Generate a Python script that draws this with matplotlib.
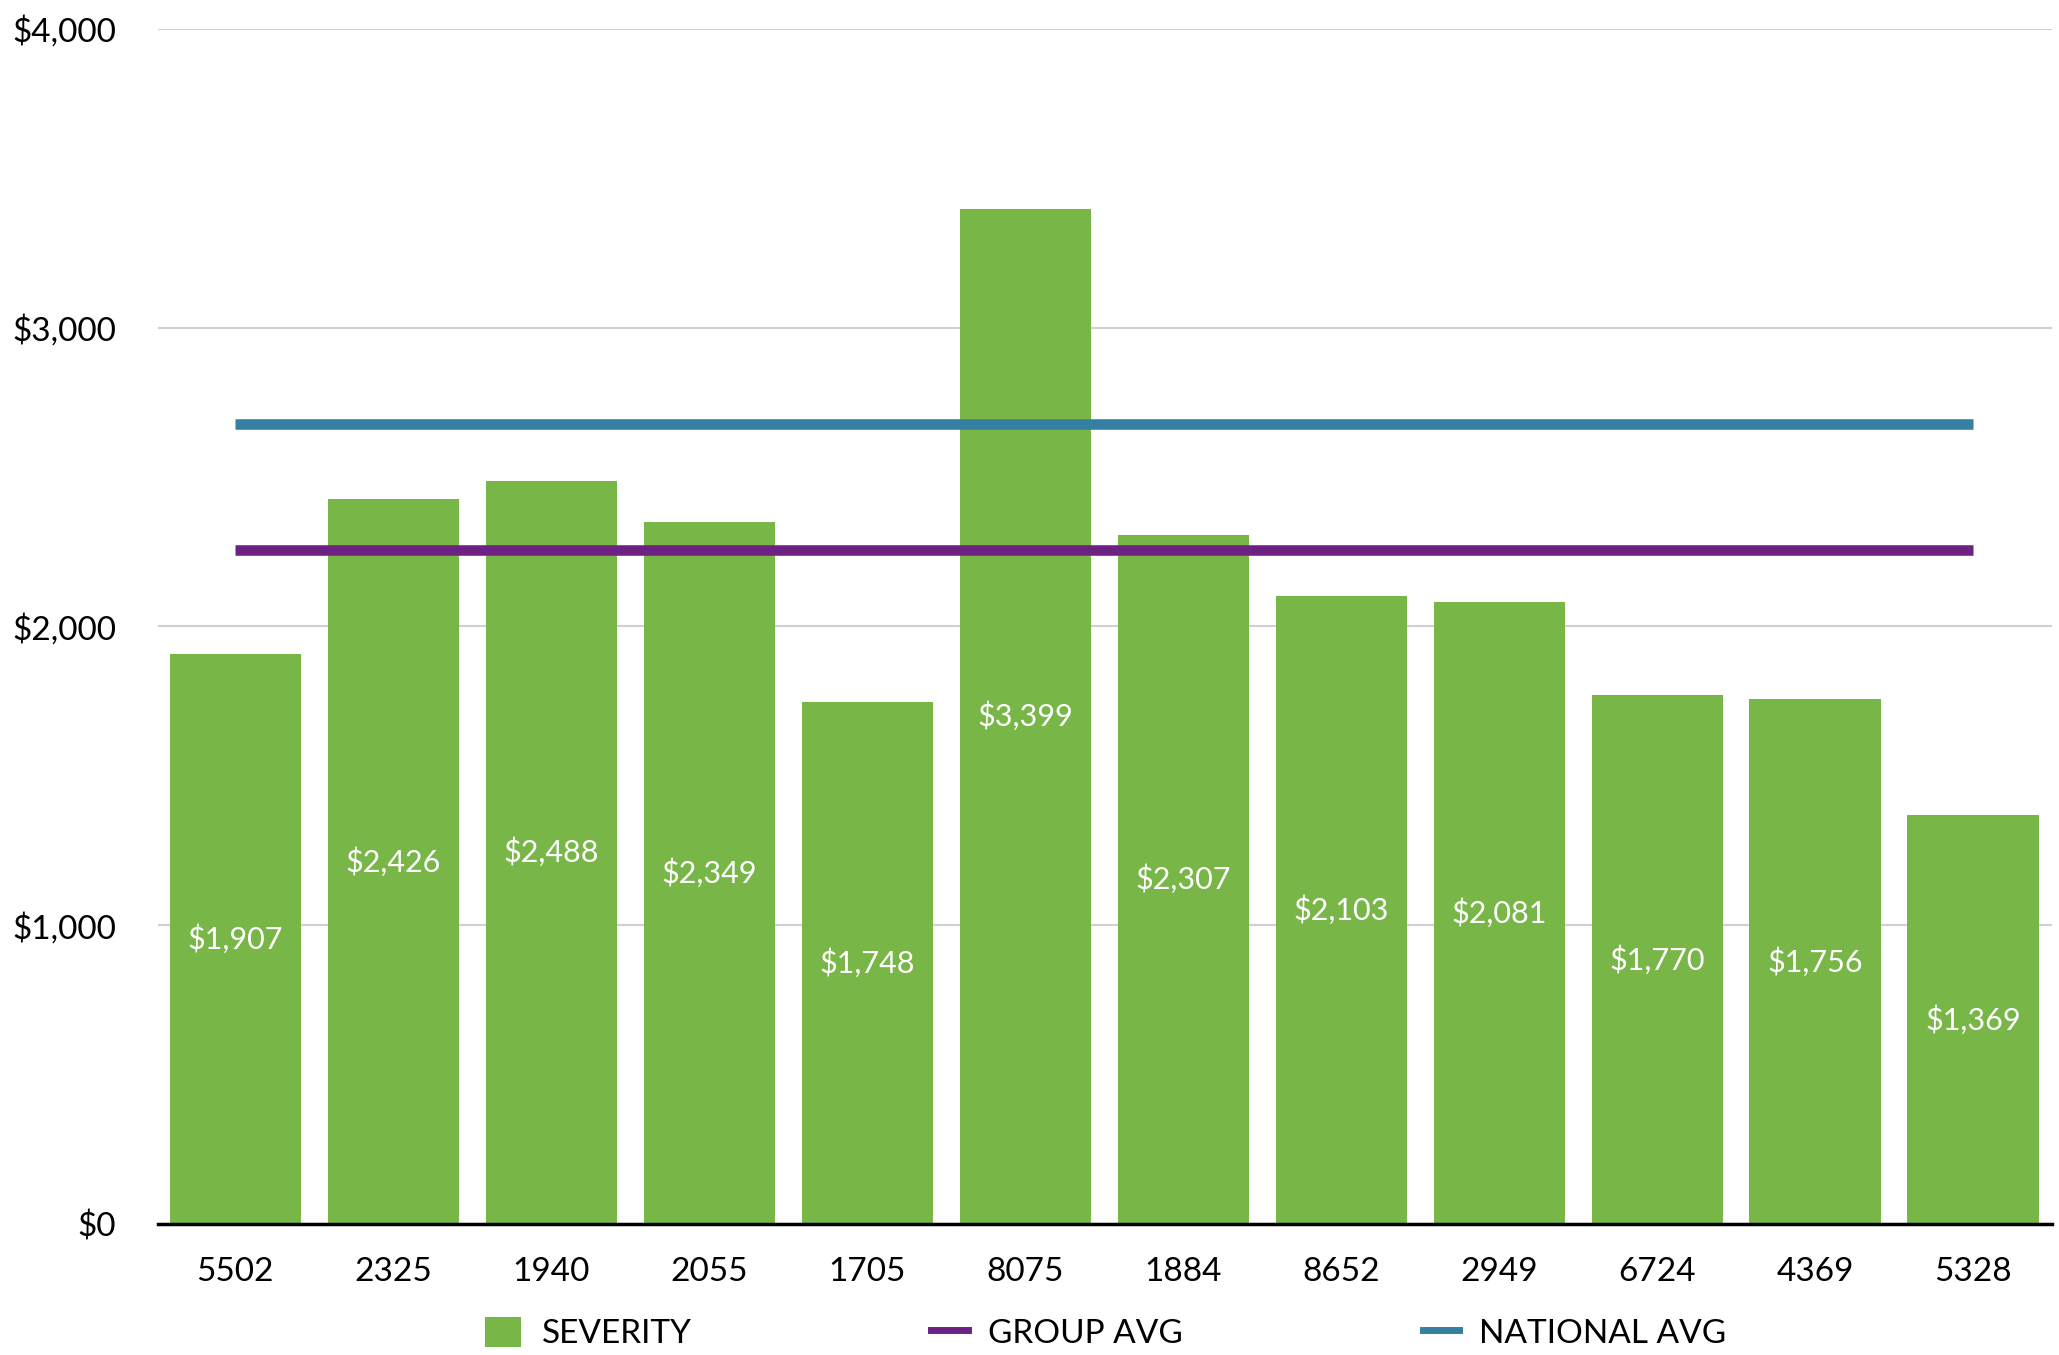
import matplotlib
matplotlib.use("Agg")
import matplotlib.pyplot as plt
from matplotlib.lines import Line2D
from matplotlib.patches import Patch
from matplotlib.ticker import FuncFormatter

# data
codes = ["5502", "2325", "1940", "2055", "1705", "8075",
         "1884", "8652", "2949", "6724", "4369", "5328"]
severity = [1907, 2426, 2488, 2349, 1748, 3399,
            2307, 2103, 2081, 1770, 1756, 1369]
group_avg = 2257
national_avg = 2677

# colours
GREEN = '#78b648'
PURPLE = '#6c2183'
BLUE = '#357fa2'
GRID = '#d0d0d0'

plt.rcParams['font.family'] = ['Lato', 'DejaVu Sans']

fig = plt.figure(figsize=(20.59, 13.55), dpi=100)
ax = fig.add_axes([0.0767, 0.0967, 0.9199, 0.8819])

x = list(range(len(codes)))
ax.bar(x, severity, width=0.83, color=GREEN, zorder=2)

# value labels at half bar height
for xi, v in zip(x, severity):
    ax.text(xi, v / 2, f"${v:,}", color='white', fontsize=22,
            ha='center', va='center', zorder=3)

# average lines span first to last bar centre
ax.plot([x[0], x[-1]], [national_avg, national_avg], color=BLUE,
        linewidth=7.6, solid_capstyle='butt', zorder=4)
ax.plot([x[0], x[-1]], [group_avg, group_avg], color=PURPLE,
        linewidth=7.6, solid_capstyle='butt', zorder=4)

ax.set_xlim(-0.49, 11.5)
ax.set_ylim(0, 4000)
ax.set_xticks(x)
ax.set_xticklabels(codes)
ax.set_yticks([0, 1000, 2000, 3000, 4000])
ax.yaxis.set_major_formatter(FuncFormatter(lambda v, p: f"${int(v):,}"))
ax.tick_params(axis='both', length=0, labelsize=24, colors='black')
ax.tick_params(axis='x', pad=24)
ax.tick_params(axis='y', pad=30)

ax.grid(axis='y', color=GRID, linewidth=1.5, zorder=0)
ax.set_axisbelow(True)
for s in ['top', 'right', 'left']:
    ax.spines[s].set_visible(False)
ax.spines['bottom'].set_linewidth(2.5)
ax.spines['bottom'].set_color('black')
ax.spines['bottom'].set_zorder(5)

handles = [
    Patch(facecolor=GREEN, edgecolor='none', label='SEVERITY'),
    Line2D([0], [0], color=PURPLE, linewidth=5, label='GROUP AVG'),
    Line2D([0], [0], color=BLUE, linewidth=5, label='NATIONAL AVG'),
]
fig.legend(handles=handles, loc='center', bbox_to_anchor=(0.537, 0.016),
           ncol=3, frameon=False, fontsize=24, handlelength=1.1,
           handleheight=1.0, handletextpad=0.6, columnspacing=7.2)

fig.savefig("out.png", dpi=100)
